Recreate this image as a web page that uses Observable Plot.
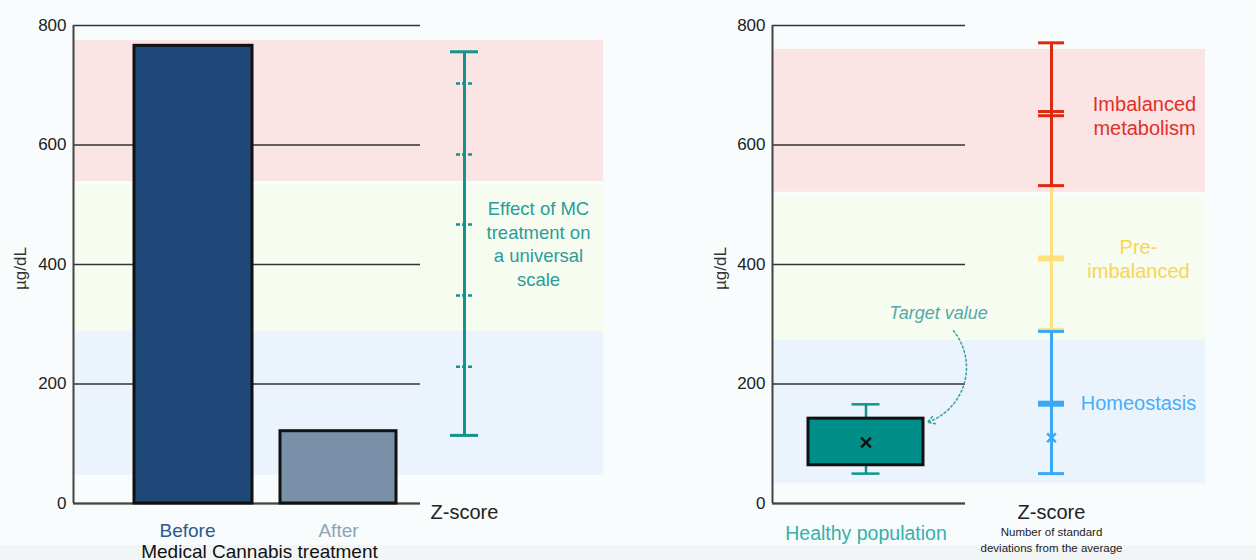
<!DOCTYPE html>
<html>
<head>
<meta charset="utf-8">
<script src="https://cdn.jsdelivr.net/npm/d3@7"></script>
<script src="https://cdn.jsdelivr.net/npm/@observablehq/plot@0.6"></script>
<style>
  html, body { margin: 0; padding: 0; }
  body {
    width: 1256px; height: 560px; overflow: hidden;
    background: linear-gradient(to bottom, #f8fcfc 0px, #f8fcfc 545px, #f2f5f5 545px);
    font-family: "Liberation Sans", Arial, Helvetica, sans-serif;
  }
  #row { display: flex; flex-direction: row; }
  svg { overflow: visible; }
</style>
</head>
<body>
<div id="row"></div>
<script>
// ---------------- data ----------------
const yTicks = [0, 200, 400, 600, 800];
const unit = "µg/dL";

// left panel: effect of treatment
const treatments = ["Before", "After"];
const treatmentValues = [766, 121];
const treatmentTitle = "Medical Cannabis treatment";

// zone bands (low, high), left panel
const zoneNames = ["Imbalanced metabolism", "Pre-imbalanced", "Homeostasis"];
const zoneLowLeft = [539, 288, 47];
const zoneHighLeft = [775, 533, 288];
// zone bands, right panel
const zoneLowRight = [521, 273, 33];
const zoneHighRight = [760, 513, 273];

// universal z-score scale (left)
const zLeftEnds = [114, 756];
const zLeftMinor = [229, 348, 467, 584, 703];
const effectLabel = "Effect of MC\ntreatment on\na universal\nscale";

// healthy population box (right)
const healthyStats = { whiskerLow: 50, q1: 64, mean: 102, q3: 142, whiskerHigh: 166 };
const healthyLabel = "Healthy population";
const targetLabel = "Target value";
const targetFrom = 289, targetTo = 136;

// z-score segments (right)
const zRed = [532, 771];
const zRedCaps = [771, 656, 649, 532];
const zYellow = [291, 532];
const zYellowCaps = [291];
const zYellowMid = [410];
const zBlue = [50, 288];
const zBlueCaps = [288, 50];
const zBlueMid = [167];
const zBlueMean = [110];
const zoneLabels = ["Imbalanced\nmetabolism", "Pre-\nimbalanced", "Homeostasis"];
const zoneLabelY = [649, 411, 169];

// ---------------- styles / layout ----------------
const W = 628, H = 560;
const Y0 = 503, Y800 = 25;
const FONT = "'Liberation Sans', Arial, Helvetica, sans-serif";
const bandFill = ["#fae4e4", "#f7fcf1", "#ebf4fd"];
const TEAL = "#12938e";
const RED = "#e0280f", YEL = "#fde17e", BLUE = "#3aa8f5";
const GRID = "#333";

function basePlot(marginLeft, marks) {
  return Plot.plot({
    width: W, height: H,
    marginLeft, marginRight: 0, marginTop: Y800, marginBottom: H - Y0,
    x: { domain: [0, W], range: [0, W], axis: null },
    y: { domain: [0, 800], range: [Y0, Y800], axis: null },
    style: { background: "transparent", fontFamily: FONT, color: "#222", overflow: "visible" },
    marks
  });
}

function axisMarks(axisX, gridEnd, labelX) {
  return [
    Plot.ruleY(yTicks, { x1: axisX, x2: gridEnd, stroke: GRID, strokeWidth: 1.6 }),
    Plot.axisY(yTicks, { anchor: "left", tickSize: 0, tickPadding: 7, fontSize: 17, label: null, fill: "#222" }),
    Plot.ruleX([axisX], { y1: 0, y2: 800, stroke: "#444", strokeWidth: 2 }),
    Plot.ruleY([0], { x1: axisX, x2: gridEnd, stroke: "#444", strokeWidth: 2 }),
    Plot.text([unit], { x: labelX, frameAnchor: "middle", dy: 4, rotate: -90, fontSize: 17, fill: "#333" })
  ];
}

// ---------------- left panel ----------------
const LA = 73, LGRID = 420, LBAND = 603;
const barX = { Before: [134, 252], After: [280, 396] };
const barFill = { Before: "#1e4877", After: "#7890a8" };
const barTextFill = { Before: "#2b5a8c", After: "#8ea2b8" };
const barLabelX = { Before: 187, After: 338 };
const ZLX = 464;

const bandsLeft = zoneNames.map((z, i) => ({ z, lo: zoneLowLeft[i], hi: zoneHighLeft[i], fill: bandFill[i] }));
const bars = treatments.map((t, i) => ({ t, v: treatmentValues[i] }));

const left = basePlot(LA, [
  Plot.rectY(bandsLeft, { x1: LA, x2: LBAND, y1: "lo", y2: "hi", fill: "fill" }),
  ...axisMarks(LA, LGRID, 20),
  Plot.rectY(bars, { x1: d => barX[d.t][0], x2: d => barX[d.t][1], y1: 0, y2: "v",
    fill: d => barFill[d.t], stroke: "#111", strokeWidth: 3 }),
  Plot.text(bars, { x: d => barLabelX[d.t], text: "t", frameAnchor: "bottom", lineAnchor: "middle", dy: 27,
    fontSize: 19, fill: d => barTextFill[d.t] }),
  Plot.text([treatmentTitle], { x: 259, frameAnchor: "bottom", lineAnchor: "middle", dy: 48, fontSize: 19, fill: "#111" }),
  // z-score scale
  Plot.ruleX([ZLX], { y1: zLeftEnds[0], y2: zLeftEnds[1], stroke: TEAL, strokeWidth: 3 }),
  Plot.ruleY(zLeftEnds, { x1: ZLX - 14, x2: ZLX + 14, stroke: TEAL, strokeWidth: 3 }),
  Plot.ruleY(zLeftMinor, { x1: ZLX - 8, x2: ZLX + 9, stroke: TEAL, strokeWidth: 2.5, strokeDasharray: "4,2" }),
  Plot.text([effectLabel], { x: 538, y: 436, fontSize: 18.5, lineHeight: 1.27, fill: "#2a9d98" }),
  Plot.text(["Z-score"], { x: ZLX, frameAnchor: "bottom", lineAnchor: "middle", dy: 9, fontSize: 20, fill: "#222" })
]);

// ---------------- right panel ----------------
const OFF = 628;
const RA = 772 - OFF, RGRID = 965 - OFF, RBAND = 1205 - OFF;
const BOX = [808 - OFF, 923 - OFF];
const BOXC = (BOX[0] + BOX[1]) / 2;
const ZRX = 1051 - OFF;
const CAP = 13;

const bandsRight = zoneNames.map((z, i) => ({ z, lo: zoneLowRight[i], hi: zoneHighRight[i], fill: bandFill[i] }));
const zoneText = zoneLabels.map((t, i) => ({ t, y: zoneLabelY[i], fill: [ "#e0302a", "#f8d64e", "#4aadf8" ][i] }));
const zoneTextX = [1144 - OFF, 1138 - OFF, 1138 - OFF];

const right = basePlot(RA, [
  Plot.rectY(bandsRight, { x1: RA, x2: RBAND, y1: "lo", y2: "hi", fill: "fill" }),
  ...axisMarks(RA, RGRID, 720.5 - OFF),
  // healthy box
  Plot.ruleX([BOXC], { y1: healthyStats.whiskerLow, y2: healthyStats.whiskerHigh, stroke: TEAL, strokeWidth: 2.5 }),
  Plot.ruleY([healthyStats.whiskerLow, healthyStats.whiskerHigh], { x1: BOXC - 14, x2: BOXC + 14, stroke: TEAL, strokeWidth: 2.5 }),
  Plot.rectY([healthyStats], { x1: BOX[0], x2: BOX[1], y1: "q1", y2: "q3", fill: "#008e89", stroke: "#111", strokeWidth: 3 }),
  Plot.dot([healthyStats], { x: BOXC, y: "mean", symbol: "times", r: 4.5, stroke: "#111", strokeWidth: 2.5 }),
  Plot.text([healthyLabel], { x: BOXC, frameAnchor: "bottom", lineAnchor: "middle", dy: 30, fontSize: 19.5, fill: "#35b1aa" }),
  // target annotation
  Plot.text([targetLabel], { x: 938 - OFF, y: 318, fontSize: 18, fontStyle: "italic", fill: "#55a9a5" }),
  Plot.arrow([{ a: targetFrom, b: targetTo }], { x1: 953 - OFF, y1: "a", x2: 927 - OFF, y2: "b",
    bend: 55, stroke: "#3a9f9a", strokeWidth: 1.5, strokeDasharray: "2,2.5", headLength: 8 }),
  // z-score segments
  Plot.ruleX([ZRX], { y1: zYellow[0], y2: zYellow[1], stroke: YEL, strokeWidth: 3 }),
  Plot.ruleY(zYellowCaps, { x1: ZRX - CAP, x2: ZRX + CAP, stroke: YEL, strokeWidth: 3 }),
  Plot.ruleY(zYellowMid, { x1: ZRX - CAP, x2: ZRX + CAP, stroke: YEL, strokeWidth: 6 }),
  Plot.ruleX([ZRX], { y1: zRed[0], y2: zRed[1], stroke: RED, strokeWidth: 3 }),
  Plot.ruleY(zRedCaps, { x1: ZRX - CAP, x2: ZRX + CAP, stroke: RED, strokeWidth: 3 }),
  Plot.ruleX([ZRX], { y1: zBlue[0], y2: zBlue[1], stroke: BLUE, strokeWidth: 3 }),
  Plot.ruleY(zBlueCaps, { x1: ZRX - CAP, x2: ZRX + CAP, stroke: BLUE, strokeWidth: 3 }),
  Plot.ruleY(zBlueMid, { x1: ZRX - CAP, x2: ZRX + CAP, stroke: BLUE, strokeWidth: 6 }),
  Plot.dot(zBlueMean, { x: ZRX, y: d => d, symbol: "times", r: 4, stroke: BLUE, strokeWidth: 2.5 }),
  Plot.text(zoneText, { x: (d, i) => zoneTextX[i], y: "y", text: "t", fill: "fill", fontSize: 20, lineHeight: 1.2 }),
  Plot.text(["Z-score"], { x: ZRX, frameAnchor: "bottom", lineAnchor: "middle", dy: 9, fontSize: 20, fill: "#222" }),
  Plot.text(["Number of standard\ndeviations from the average"], { x: ZRX, frameAnchor: "bottom", lineAnchor: "middle", dy: 35,
    fontSize: 11.5, lineHeight: 1.4, fill: "#222" })
]);

document.getElementById("row").append(left, right);
</script>
</body>
</html>
